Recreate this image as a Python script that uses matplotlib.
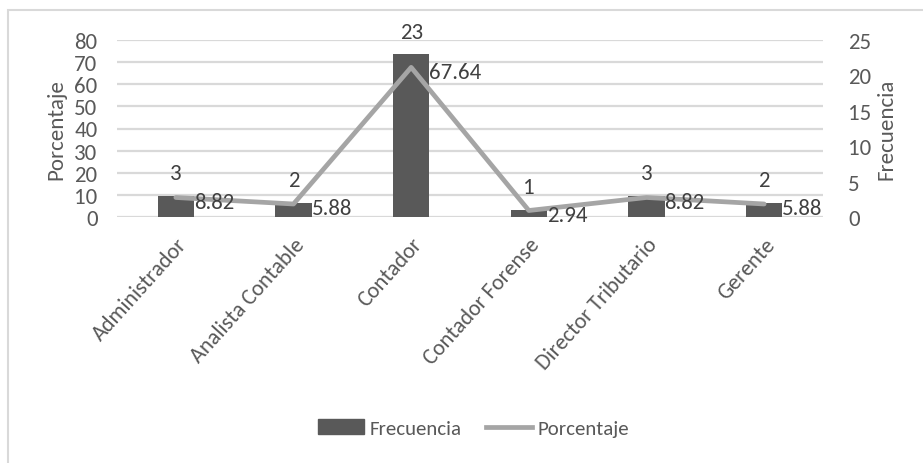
import matplotlib
matplotlib.use("Agg")
import matplotlib.pyplot as plt
from matplotlib.patches import Rectangle
from matplotlib.lines import Line2D

# Data
categorias = ["Administrador", "Analista Contable", "Contador",
              "Contador Forense", "Director Tributario", "Gerente"]
frecuencia = [3, 2, 23, 1, 3, 2]
porcentaje = [8.82, 5.88, 67.64, 2.94, 8.82, 5.88]
ticks_pct = [0, 10, 20, 30, 40, 50, 60, 70, 80]
ticks_freq = [0, 5, 10, 15, 20, 25]

plt.rcParams['font.family'] = ['Carlito', 'DejaVu Sans']

TXT = "#595959"
LBL = "#404040"
BAR = "#595959"
LINE = "#A5A5A5"
GRID = "#D9D9D9"

W, H = 923, 464
fig = plt.figure(figsize=(W / 100, H / 100), dpi=100)

# plot area in pixels
x0, x1 = 117, 823
y_top, y_bot = 41, 218
ax = fig.add_axes([x0 / W, 1 - y_bot / H, (x1 - x0) / W, (y_bot - y_top) / H])
ax2 = ax.twinx()
ax3 = ax.twinx()

x = list(range(len(categorias)))

# base axis: percentage scale with gridlines
ax.set_xlim(-0.5, len(categorias) - 0.5)
ax.set_ylim(0, 80)
ax.set_yticks(ticks_pct)
ax.yaxis.grid(True, color=GRID, lw=1.6)
ax.set_axisbelow(True)
ax.tick_params(axis='y', length=0, labelsize=16.5, labelcolor=TXT, pad=14)
ax.set_xticks(x)
ax.set_xticklabels(categorias, rotation=48, ha='right', rotation_mode='anchor',
                   fontsize=16, color=TXT)
ax.tick_params(axis='x', length=0, pad=12)
ax.set_ylabel("Porcentaje", fontsize=16.5, color=TXT, labelpad=6)
for s in ax.spines.values():
    s.set_visible(False)

# bars: frequency scale
ax2.bar(x, frecuencia, width=0.31, color=BAR, zorder=2)
ax2.set_ylim(0, 25)
ax2.set_yticks(ticks_freq)
ax2.tick_params(axis='y', length=0, labelsize=16.5, labelcolor=TXT, pad=18)
ax2.set_ylabel("Frecuencia", fontsize=16.5, color=TXT, labelpad=4)
for s in ax2.spines.values():
    s.set_visible(False)
for xi, v in zip(x, frecuencia):
    ax2.annotate(str(v), (xi, v), xytext=(0, 9), textcoords='offset points',
                 ha='center', va='bottom', fontsize=16.5, color=LBL)

# line: percentage scale on top
ax3.plot(x, porcentaje, color=LINE, lw=3.4, solid_capstyle='round', zorder=3)
ax3.set_ylim(0, 80)
ax3.set_yticks([])
for s in ax3.spines.values():
    s.set_visible(False)
for xi, v in zip(x, porcentaje):
    ax3.annotate(f"{v:.2f}", (xi, v), xytext=(13, -3), textcoords='offset points',
                 ha='left', va='center', fontsize=16.5, color=LBL)

# legend
handles = [Rectangle((0, 0), 1, 1, color=BAR),
           Line2D([0], [0], color=LINE, lw=3.4)]
fig.legend(handles, ["Frecuencia", "Porcentaje"], loc='center',
           bbox_to_anchor=(0.513, 0.075), ncol=2, frameon=False,
           fontsize=15, labelcolor=TXT, handlelength=2.2, handletextpad=0.25,
           columnspacing=1.2)

# chart frame
fig.patches.append(Rectangle((8 / W, -0.1), 1.2, 0.1 + 1 - 11 / H,
                             transform=fig.transFigure, fill=False,
                             edgecolor=GRID, lw=1.5))

fig.savefig("out.png", dpi=100, facecolor="white")
